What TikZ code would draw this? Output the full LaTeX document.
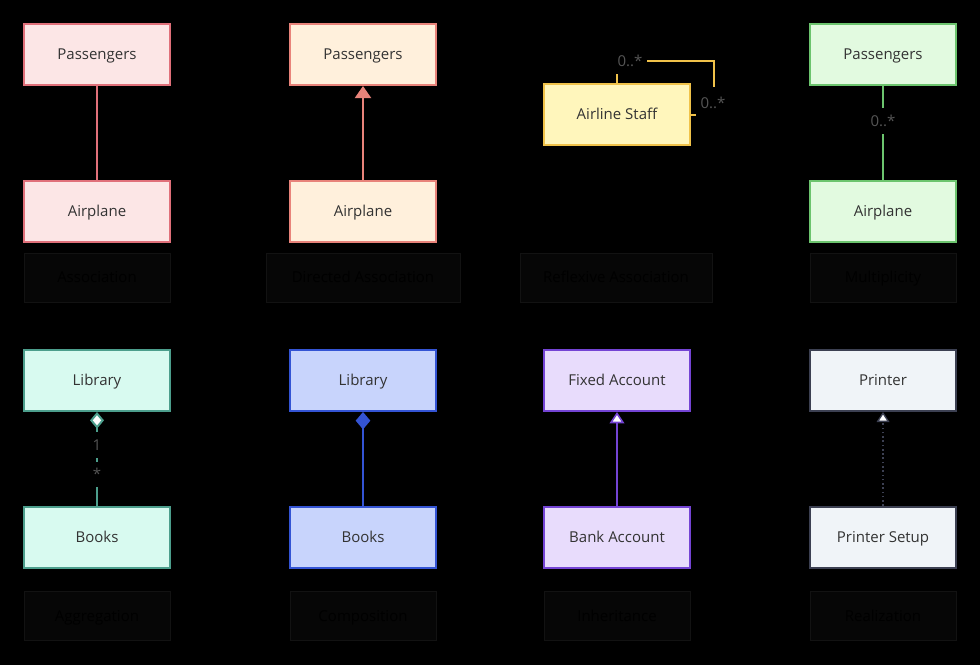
\documentclass[tikz,border=0pt]{standalone}
\usepackage{fontspec}
\setmainfont{Open Sans}
\usetikzlibrary{
	arrows.meta,
	positioning
}

\definecolor{roseFill}{HTML}{FCE6E6}
\definecolor{roseLine}{HTML}{E0707A}
\definecolor{peachFill}{HTML}{FFF0DC}
\definecolor{peachLine}{HTML}{E8837A}
\definecolor{sandFill}{HTML}{FFF6BC}
\definecolor{sandLine}{HTML}{F0C24A}
\definecolor{mintFill}{HTML}{E2FAE0}
\definecolor{mintLine}{HTML}{6CC46E}
\definecolor{aquaFill}{HTML}{D8FAF0}
\definecolor{aquaLine}{HTML}{4C9E8C}
\definecolor{blueFill}{HTML}{C8D4FC}
\definecolor{blueLine}{HTML}{3454D4}
\definecolor{lilacFill}{HTML}{E8DCFC}
\definecolor{lilacLine}{HTML}{7444D4}
\definecolor{greyFill}{HTML}{F0F4F8}
\definecolor{greyLine}{HTML}{3C4052}
\definecolor{textDark}{HTML}{333333}
\definecolor{multGrey}{HTML}{555555}
\definecolor{capFill}{HTML}{060606}
\definecolor{capLine}{HTML}{121212}

\begin{document}
\begin{tikzpicture}[
				x=0.75pt, y=-0.75pt,
				cls/.style={draw, line width=1.5pt, minimum width=109.5pt, minimum height=45.75pt, inner sep=0pt, text height=8pt, text depth=0pt, text=textDark, font=\fontsize{11.25}{13}\selectfont},
				caption/.style={draw=capLine, fill=capFill, line width=0.75pt, minimum height=36.75pt, inner sep=0pt, text height=8pt, text depth=0pt, text=black, font=\fontsize{11.25}{13}\selectfont},
				link/.style={line width=1.5pt},
				mult/.style={fill=black, text=multGrey, inner sep=0pt, text height=8pt, text depth=0pt, minimum width=26pt, minimum height=19pt, font=\fontsize{11.25}{13}\selectfont}
			]
				% 背景
				\fill[black] (0,0) rectangle (980,665);

				% 关联
				\node[cls, fill=roseFill, draw=roseLine] (pass1)  at (97, 54.5)  {Passengers};
				\node[cls, fill=roseFill, draw=roseLine] (plane1) at (97, 211.5) {Airplane};
				\draw[link, roseLine] (pass1) -- (plane1);
				\node[caption, minimum width=109.5pt] (cap1) at (97, 277.5) {Association};

				% 有向关联
				\node[cls, fill=peachFill, draw=peachLine] (pass2)  at (363, 54.5)  {Passengers};
				\node[cls, fill=peachFill, draw=peachLine] (plane2) at (363, 211.5) {Airplane};
				\draw[link, peachLine, -{Triangle[length=9pt, width=12pt]}] (plane2) -- (pass2);
				\node[caption, minimum width=145.5pt] (cap2) at (363, 277.5) {Directed Association};

				% 自关联
				\node[cls, fill=sandFill, draw=sandLine] (staff) at (617, 114.5) {Airline Staff};
				\coordinate (loopTop) at (714, 61);
				\draw[link, sandLine] (staff.north) |- (loopTop) |- (staff.east);
				\node[mult] (multA) at (630, 61)  {0..*};
				\node[mult, minimum height=24pt] (multB) at (713, 103) {0..*};
				\node[caption, minimum width=144pt] (cap3) at (616, 277.5) {Reflexive Association};

				% 多重性
				\node[cls, fill=mintFill, draw=mintLine] (pass4)  at (883, 54.5)  {Passengers};
				\node[cls, fill=mintFill, draw=mintLine] (plane4) at (883, 211.5) {Airplane};
				\draw[link, mintLine] (pass4) -- (plane4);
				\node[mult] (multC) at (883, 121) {0..*};
				\node[caption, minimum width=109.5pt] (cap4) at (883, 277.5) {Multiplicity};

				% 聚合
				\node[cls, fill=aquaFill, draw=aquaLine] (lib1)   at (97, 380.5) {Library};
				\node[cls, fill=aquaFill, draw=aquaLine] (books1) at (97, 537.5) {Books};
				\draw[link, aquaLine, {Diamond[fill=white, length=12.5pt, width=10.5pt]}-] (lib1) -- (books1);
				\node[mult, minimum height=19.5pt] (multD) at (97, 445) {1};
				\node[mult, minimum height=18.75pt] (multE) at (97, 474.5) {*};
				\node[caption, minimum width=109.5pt] (cap5) at (97, 616) {Aggregation};

				% 组合
				\node[cls, fill=blueFill, draw=blueLine] (lib2)   at (363, 380.5) {Library};
				\node[cls, fill=blueFill, draw=blueLine] (books2) at (363, 537.5) {Books};
				\draw[link, blueLine, {Diamond[length=13pt, width=11pt]}-] (lib2) -- (books2);
				\node[caption, minimum width=109.5pt] (cap6) at (363, 616) {Composition};

				% 继承
				\node[cls, fill=lilacFill, draw=lilacLine] (fixed) at (617, 380.5) {Fixed Account};
				\node[cls, fill=lilacFill, draw=lilacLine] (bank)  at (617, 537.5) {Bank Account};
				\draw[link, lilacLine, -{Triangle[open, fill=white, line width=1.2pt, length=8.5pt, width=11pt]}] (bank) -- (fixed);
				\node[caption, minimum width=109.5pt] (cap7) at (617, 616) {Inheritance};

				% 实现
				\node[cls, fill=greyFill, draw=greyLine] (printer) at (883, 380.5) {Printer};
				\node[cls, fill=greyFill, draw=greyLine] (setup)   at (883, 537.5) {Printer Setup};
				\draw[line width=1.2pt, greyLine, dotted, -{Triangle[open, fill=white, line width=1pt, length=7.5pt, width=9.5pt]}] (setup) -- (printer);
				\node[caption, minimum width=109.5pt] (cap8) at (883, 616) {Realization};
			\end{tikzpicture}
\end{document}
